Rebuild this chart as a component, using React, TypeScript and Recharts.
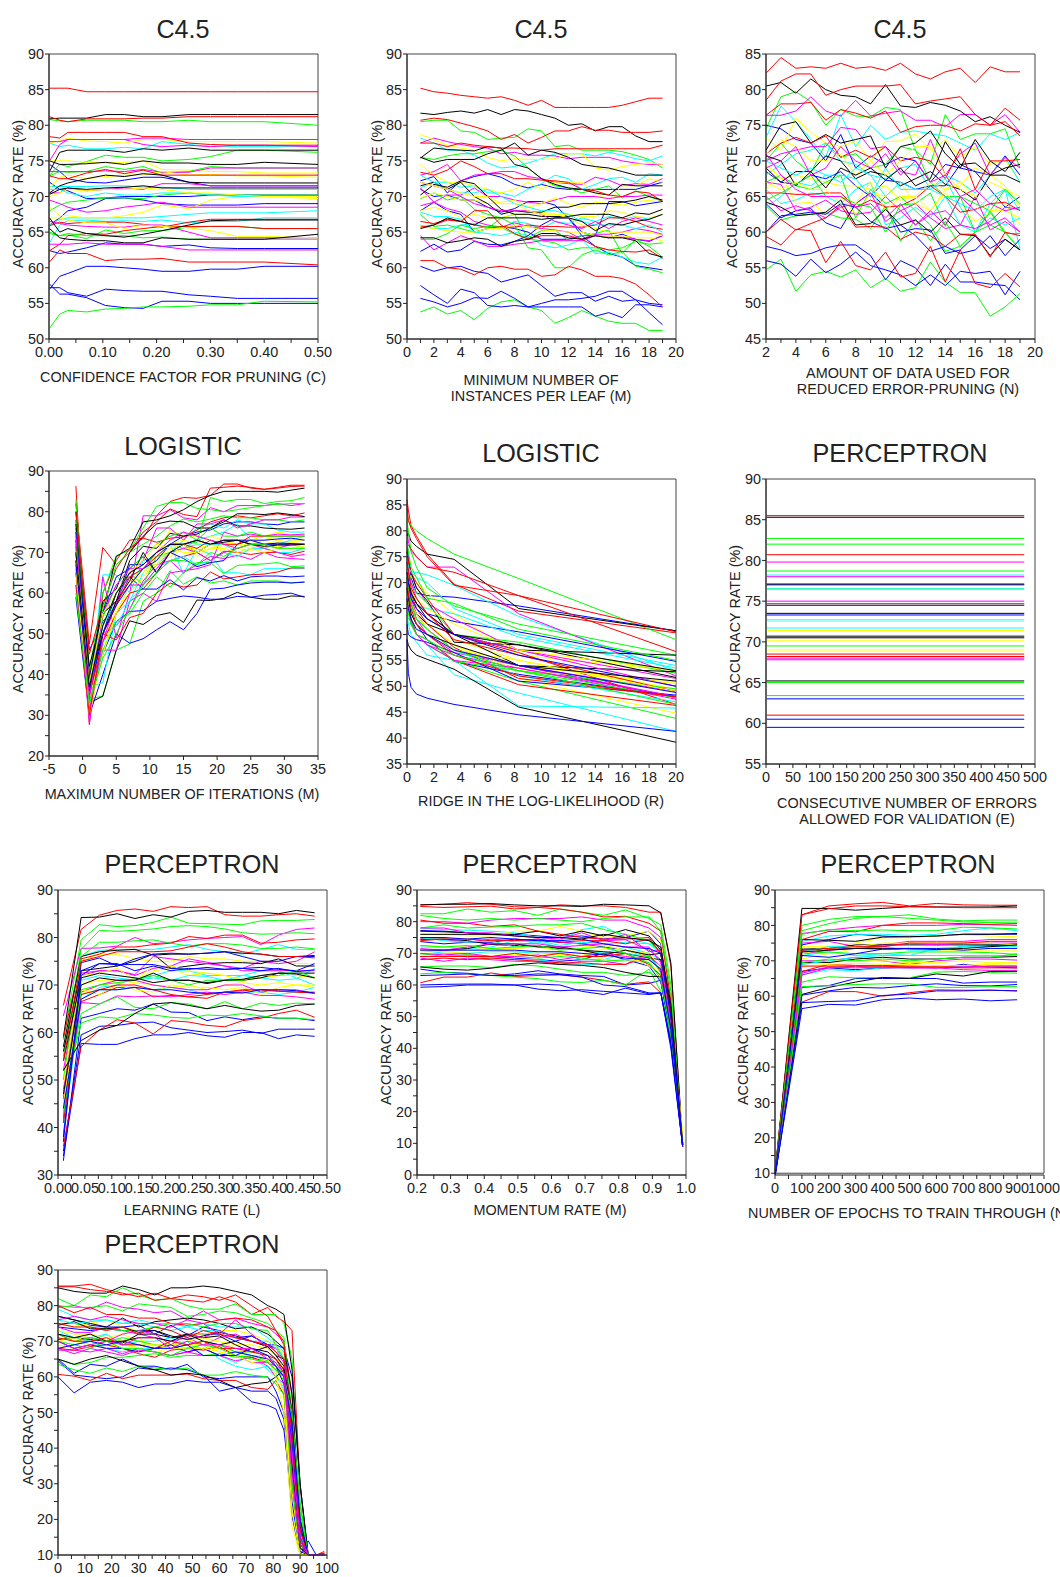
import { LineChart, Line, XAxis, YAxis, ReferenceArea } from "recharts";

const RED = "#ff0000";
const GREEN = "#00ff00";
const BLUE = "#0000ff";
const CYAN = "#00ffff";
const MAGENTA = "#ff00ff";
const YELLOW = "#ffff00";
const BLACK = "#000000";

// confidence factor
const confX = [0.001, 0.02, 0.035, 0.07, 0.105, 0.14, 0.175, 0.21, 0.26, 0.3, 0.35, 0.4, 0.5];
const confRed = [
  [85.2, 85.2, 85.2, 84.7, 84.7, 84.7, 84.7, 84.7, 84.7, 84.7, 84.7, 84.7, 84.7],
  [81.2, 80.7, 80.5, 80.9, 80.9, 80.9, 81, 81, 81.2, 81.2, 81.2, 81.2, 81.2],
  [78.4, 78.2, 79, 79, 79, 79, 78.4, 78.4, 77.5, 77.3, 77.2, 77.2, 77.2],
  [72.9, 72.5, 72.5, 73.3, 73.8, 73.2, 73.7, 73, 73, 73, 73, 73, 73],
  [65.9, 66.4, 66.2, 66.4, 66.4, 66.4, 66.1, 65.7, 66.4, 66.8, 66.8, 66.8, 66.8],
  [62.4, 63.3, 64.5, 64.8, 64.7, 65.2, 65.5, 65.8, 65.8, 65.8, 65.8, 65.5, 65.5],
  [60.8, 62.5, 62, 62, 61, 61.2, 61.2, 61.3, 60.8, 60.8, 60.8, 60.8, 60.4],
];
const confGreen = [
  [80.8, 80.6, 80.5, 80.7, 80.7, 80.7, 80.5, 80.5, 80.7, 80.5, 80.5, 80.5, 80],
  [73, 74.5, 74.2, 74.9, 75.8, 75.5, 75.5, 75, 75.2, 75.6, 76.5, 76.5, 76.2],
  [72.9, 73.5, 73.4, 73.5, 74.2, 73.8, 74.2, 73.3, 73.5, 74.2, 74, 74, 74],
  [68, 68.8, 69.2, 69.5, 69.8, 69.8, 69.7, 70.2, 70.5, 70.2, 70.2, 70.2, 70.2],
  [64.8, 64.5, 64.6, 64.1, 65.3, 64.8, 65.2, 65.2, 65.7, 65.8, 65.8, 65.5, 65.5],
  [65, 64.5, 64.8, 64.5, 64.5, 64.5, 64.2, 64.3, 64, 64, 64, 64, 64],
  [51.5, 53.5, 54, 53.8, 54.2, 54.3, 54.5, 54.5, 54.6, 54.8, 54.8, 55.3, 55.2],
];
const confBlue = [
  [74.5, 73.5, 72.5, 72, 71.9, 72.3, 72.7, 72.7, 72, 71.5, 71.5, 71.5, 71.5],
  [72, 71, 70.8, 69.7, 69.8, 70, 70, 70, 70, 70.2, 70.2, 70.2, 70.2],
  [66, 67, 68, 68.5, 69.7, 69.8, 69.5, 69, 68.8, 68.8, 68.8, 69, 69],
  [62.4, 62, 62.2, 62.8, 63.5, 63.3, 63.3, 63, 63.2, 62.8, 62.7, 62.7, 62.7],
  [57, 58.8, 59.2, 60.2, 60.2, 60, 59.8, 59.5, 59.5, 59.8, 59.8, 60.2, 60.2],
  [57.7, 56.3, 56.3, 55.8, 54.7, 54.4, 54.3, 55.3, 55.3, 55, 55, 55, 55],
  [57.2, 57.2, 56.5, 56, 57, 56.8, 56.7, 56.7, 56.2, 56, 55.7, 55.7, 55.7],
];
const confCyan = [
  [77.5, 77, 77.2, 76.7, 76.7, 76.9, 76.7, 77.7, 77.3, 77, 77, 77, 77],
  [71.4, 71.4, 71.4, 71.4, 71.5, 71.5, 71.3, 71.3, 71, 71, 71, 71, 71],
  [63.5, 66, 66.6, 66.7, 66.5, 66.6, 66.5, 66.7, 66.3, 66.5, 66.5, 67, 67],
  [66, 66.8, 67, 67, 67, 67, 67, 67.2, 67.5, 67.7, 67.7, 67.7, 68],
  [71, 71, 70.5, 70, 70.5, 70.2, 70.2, 70.5, 70.5, 70.2, 70, 70, 70],
];
const confMagenta = [
  [75, 77.3, 78, 78, 78, 78, 77.3, 77, 77.2, 77, 77.2, 77.2, 77],
  [77.7, 77.7, 78, 78, 78, 78, 78.2, 78.2, 78, 78, 78, 78, 78],
  [73.5, 73.5, 73.5, 73.5, 73.6, 73.5, 73.8, 73.4, 73.4, 74, 74, 74, 74],
  [70.5, 70.5, 71.2, 70.8, 71, 71.2, 71, 71.8, 71.8, 71.5, 71.5, 71.5, 71.5],
  [69.5, 69, 68.5, 67.8, 68, 68.5, 68.8, 69.2, 68.5, 68.5, 68.5, 68.5, 68.5],
  [66.5, 66.2, 66, 65.8, 65.7, 65.7, 66, 66, 65, 64.2, 64.2, 64.2, 64.2],
  [63.3, 63.3, 63.3, 63.5, 63.3, 63.3, 63.3, 63, 62.5, 62.5, 62.5, 62.5, 62.5],
];
const confYellow = [
  [77.5, 77.8, 78.2, 77.8, 77.7, 77.5, 78, 78, 77.7, 77.7, 77.7, 77.7, 77.5],
  [75, 75, 75, 74.8, 74.7, 74.8, 75, 73.8, 73.7, 73.5, 73.5, 73.3, 73.3],
  [71.2, 72.7, 73, 72.5, 72.8, 73, 73, 73.5, 73, 73.1, 72.9, 72.9, 72.7],
  [68.5, 67.3, 67.3, 67, 67, 67.3, 67.8, 68.8, 68.3, 69.5, 70, 70, 69.7],
  [70, 70.5, 71, 70.8, 71, 71, 71.2, 71, 70.5, 70.5, 70.2, 70, 70],
  [67, 67, 66.7, 66.3, 66.3, 65.5, 66, 65.8, 65.6, 65.2, 64.4, 64.4, 64.2],
];
const confBlack = [
  [80.9, 81, 81, 81, 81.5, 81.5, 81.2, 81.2, 81.5, 81.5, 81.5, 81.5, 81.5],
  [73.5, 76.2, 76.5, 76.5, 76.5, 76.2, 76.7, 76.5, 76.8, 76.5, 76.5, 76.5, 76.5],
  [75, 74.5, 74.5, 74.6, 74.8, 74.5, 75, 74.7, 74.7, 74.5, 74.5, 74.8, 74.5],
  [70.5, 71.5, 71.9, 72.5, 73, 72.8, 73.2, 73, 72, 71.9, 71.9, 71.9, 71.9],
  [70.3, 71, 71.2, 71, 71.2, 71.3, 71.5, 71.2, 71.2, 71.2, 71.2, 71.2, 71.2],
  [67, 65, 65.5, 64.8, 64.5, 64.3, 64.7, 65.2, 66, 66.6, 66.7, 66.7, 66.7],
  [65.5, 64.2, 64, 63.8, 63.8, 63.5, 63.5, 64.2, 64, 64, 64, 64, 64.7],
];

// minimum instances per leaf
const leafX = [1, 2, 3, 4, 5, 6, 7, 8, 9, 10, 11, 12, 13, 14, 15, 16, 17, 18, 19];
const leafRed = [
  [85.2, 84.7, 84.5, 84.2, 84, 83.8, 84, 83.5, 82.8, 83.5, 82.5, 82.5, 82.5, 82.5, 82.5, 82.8, 83.3, 83.8, 83.8],
  [80.7, 81, 80.8, 80.3, 79.8, 79.2, 78, 78.7, 77.5, 78.3, 79.2, 79.2, 79.8, 79.3, 79.3, 79, 79, 79, 79.2],
  [77.5, 77.5, 77, 77.5, 77.2, 77, 76.8, 76.8, 76.7, 76.5, 76.7, 76.7, 76.7, 76.7, 76.7, 76.7, 76.7, 76.7, 77.2],
  [73.4, 73, 73.7, 75, 74.2, 73.2, 73.2, 72.5, 72.5, 72.3, 72.2, 72, 71, 70.8, 70.2, 70, 70.7, 70.5, 69.3],
  [66.5, 66.2, 66.8, 66.5, 66, 65.7, 65.8, 65.7, 66, 65.8, 65.8, 65.7, 65.7, 66, 67, 67, 66.5, 65.7, 65.4],
  [65.7, 66, 66.7, 66.5, 68, 68, 66, 64.8, 64, 64.5, 64.5, 64.5, 64, 63, 62.5, 62.3, 62.2, 62.5, 61.3],
  [61, 61, 60, 59.8, 59, 60, 60.2, 59.8, 59.8, 58.8, 59, 60.2, 59.7, 58.8, 58.8, 58.5, 57.7, 56.2, 54.5],
];
const leafGreen = [
  [80.5, 80.7, 80.7, 79.2, 79, 78, 78.2, 78.3, 79.5, 79.2, 77, 77.2, 76.5, 76.5, 76.5, 76.3, 75.8, 75.2, 74],
  [75.5, 75.2, 75.7, 76, 76, 76.3, 76.5, 75.7, 74, 72.5, 71.5, 71.2, 70.5, 71, 71.5, 69.8, 70.8, 70, 69.3],
  [69.7, 70.5, 69.5, 70, 68.2, 67.5, 67, 67.5, 64, 63.8, 63.5, 62.5, 62.8, 62.8, 62.5, 62.8, 63.7, 63.3, 63.5],
  [67.5, 65.8, 66, 65.5, 65, 65.5, 67, 66, 62.8, 62.5, 60, 60, 61.8, 62.5, 61.8, 62.3, 60.2, 59.8, 59.3],
  [64, 64, 64.8, 66, 65.5, 65.8, 65.7, 64.7, 64.2, 65.2, 65.3, 63.8, 64.5, 64.8, 65.3, 62, 64, 63, 61.5],
  [53.8, 54.5, 53.5, 54, 52.7, 54.3, 55.2, 55.5, 54.5, 54, 52.2, 53, 54, 53.2, 52.5, 52.2, 52.2, 51.2, 51.2],
];
const leafBlue = [
  [72.2, 72.8, 70.5, 72.2, 72.8, 73.2, 72.7, 71.7, 71.2, 71.7, 71.2, 71, 71, 71, 71, 71, 71, 71.5, 72],
  [71, 70, 70.2, 69.5, 69.5, 68.5, 67.8, 68.3, 69.3, 69.3, 68.8, 67, 64.5, 63, 62, 61.5, 60.3, 60, 59.7],
  [68, 69.2, 68, 67.5, 65, 65.5, 65.8, 65.5, 65, 64, 64, 64, 64.5, 64.5, 64.2, 64.7, 64, 63.7, 64.5],
  [62.3, 63.3, 62.2, 62.5, 63.7, 63.3, 63.2, 63.7, 64.5, 66, 67, 67, 65, 64.5, 69.3, 69.3, 68.7, 69, 69.3],
  [60.2, 59.5, 60, 60.2, 59.5, 59.2, 58, 58.5, 59, 57.5, 56, 56.5, 56.5, 55.3, 56, 55.3, 55.5, 55, 54.8],
  [57.5, 56.2, 55, 57, 56.5, 54.7, 54.5, 54.7, 54.5, 54.5, 54.5, 54.5, 54.5, 53.2, 53.7, 53, 54.8, 54.8, 54.5],
  [55.7, 55.2, 54.5, 55, 55.8, 55.7, 56.7, 55.7, 54.5, 55, 55.5, 55.5, 55.7, 56, 56.7, 56.7, 55.5, 53.7, 52],
];
const leafCyan = [
  [78.2, 77.5, 76.5, 76.5, 75.8, 74.7, 74, 74.2, 74.7, 75.3, 76, 76, 76, 75.7, 76.2, 75.8, 75.3, 75, 75.7],
  [71.2, 72, 72, 71.3, 71.5, 70.5, 70.5, 70, 71, 71.8, 73, 72.5, 71, 71.7, 72.5, 72.7, 72, 73.2, 73],
  [67.8, 67.2, 67.2, 66.8, 65, 64.8, 64.5, 65, 64.5, 63.2, 62.8, 63.2, 64, 62, 62.2, 61.5, 60.8, 60.5, 61.5],
  [66, 65.5, 65.5, 66, 66.2, 65.5, 65.5, 66.5, 66.2, 65.5, 66.5, 66.2, 67, 66.5, 67.2, 66.8, 67.2, 66.8, 67.5],
  [73, 72, 71, 70.5, 70.5, 71, 70, 69, 68.5, 68, 68, 67.5, 66.5, 66, 66, 66, 65.5, 66, 65],
];
const leafMagenta = [
  [77.5, 78.2, 77.7, 77.3, 77, 76.8, 76, 76.2, 75.8, 75.8, 75.7, 75.3, 75.5, 75.5, 75.5, 75, 74.7, 74.5, 74.5],
  [73, 73.5, 74.5, 72.2, 73, 73.2, 73.5, 73.5, 72.8, 72.5, 72, 71.8, 71.7, 72.7, 72.3, 71.5, 71.8, 71.7, 72.5],
  [71.2, 69.2, 70.2, 70.2, 71.2, 70, 70, 69.5, 69.2, 69, 69.5, 70, 70, 70, 69.7, 70, 70, 70.2, 70.2],
  [68.7, 69.2, 68.3, 67.8, 66.5, 66, 65.7, 66.3, 65.8, 65.5, 65.3, 65, 64, 64.7, 64.7, 65, 65.5, 65.2, 64.7],
  [64.5, 62.5, 63.5, 64.5, 63.8, 63, 63, 63.3, 63.5, 63.8, 63.8, 63.8, 63.8, 64.5, 64.3, 64.3, 64, 63.8, 64.5],
  [72, 71.5, 71, 70, 69, 68.5, 68, 68, 68, 67.5, 66.5, 66, 65.5, 66.5, 65.5, 66.5, 67, 66.5, 66],
];
const leafYellow = [
  [78.7, 78, 77.2, 76.8, 76.5, 75.5, 75, 75.3, 75.2, 75.2, 75.3, 76, 76, 74, 73.7, 74.2, 74.5, 74.7, 74.5],
  [74.5, 73, 72, 72, 71.5, 71, 70.5, 71, 72, 71, 72, 72, 72, 70.5, 69.5, 71.5, 71.5, 72.5, 72],
  [69.8, 70.5, 70, 69.5, 69.5, 69, 69.2, 69.5, 68.5, 69, 69.8, 69, 68.5, 69.2, 69, 68.8, 69.2, 69.5, 69],
  [68, 68.5, 68, 67, 67.5, 67, 67, 67.5, 67.5, 67.8, 67.5, 67.5, 67.2, 67.2, 68, 67.8, 67.2, 67, 67.5],
  [65.8, 65.5, 65.2, 65, 65, 65.5, 65.5, 66, 65.8, 65.3, 65.2, 65, 65, 64.5, 64.3, 64.5, 64.2, 64.2, 63.8],
  [72, 71.5, 71, 70.5, 70, 70, 69, 69, 68, 67.5, 67.5, 67, 66, 65.5, 65, 65, 65, 65, 64.5],
];
const leafBlack = [
  [81.7, 81.5, 81.8, 82, 81.7, 82.2, 81.5, 82.2, 82, 81.5, 81, 80, 80.2, 79.2, 79.8, 79.8, 78.5, 77.7, 77.7],
  [75.4, 76.8, 76.6, 76.5, 76.4, 77, 76.8, 74.5, 74, 72.5, 71.7, 71.2, 71, 70.5, 70.2, 71.7, 71.5, 71.5, 71.5],
  [75.5, 74.8, 75.2, 75.2, 75.2, 76, 76.5, 77.5, 75.8, 76.5, 76.2, 75.5, 74.5, 74.2, 74, 73.5, 73, 73, 73],
  [71.5, 72, 71, 72, 70, 69, 67.5, 68, 67.8, 67.8, 68.5, 68.5, 69, 69, 69, 69.2, 69.5, 70, 69.5],
  [70.2, 71.7, 71.3, 72.2, 71.8, 70, 68.2, 67.5, 67.5, 67.2, 67.2, 67.2, 67.5, 67.5, 67.5, 67, 67.7, 67.5, 68.2],
  [65.5, 66, 67, 66.5, 66, 67, 67, 67, 67, 66.8, 67, 67, 66.5, 65.2, 66.2, 66, 66.5, 66.8, 67.5],
  [64.2, 64.2, 63.5, 63.8, 64.2, 64, 63, 63.7, 64, 64.8, 64.8, 64.2, 64, 64.5, 64.2, 64.2, 63.8, 62, 61.5],
];

// reduced error pruning folds
const foldX = [2, 3, 4, 5, 6, 7, 8, 9, 10, 11, 12, 13, 14, 15, 16, 17, 18, 19];
const foldRed = [
  [82.3, 84.5, 83, 83.2, 83, 83.7, 83, 83.2, 82.7, 83.7, 82.2, 81.5, 82.5, 83, 81, 83.2, 82.5, 82.5],
  [78.5, 81.2, 82.2, 82.2, 79.2, 80, 80.5, 80.5, 80.5, 80.7, 78, 78.4, 78.7, 79, 76.5, 75, 75.5, 73.5],
  [76.4, 78, 78, 78.2, 75.7, 77.2, 76.7, 76, 77, 74, 74.8, 75, 75, 74.2, 75.2, 75, 77.4, 75.7],
  [71, 72.5, 73.3, 72.5, 73.5, 70.5, 71.5, 70.5, 72, 70, 70.5, 70, 67.5, 71.7, 66, 70, 70, 70.2],
  [65.5, 65.5, 65.3, 65.3, 65.5, 65.5, 63.5, 64.5, 63.5, 63.7, 64.7, 66.5, 65, 62.8, 63.2, 64, 64.2, 63],
  [60, 61.8, 60.3, 61.2, 62, 63.8, 60.7, 60.8, 60.7, 59, 60, 59.5, 58, 59.7, 59.7, 56.5, 60, 59.5],
  [59.4, 58.2, 60.4, 60.2, 55.7, 58.7, 55.3, 54.7, 57.2, 53.7, 54.2, 58, 53, 57.5, 52.8, 52.2, 54.2, 52.3],
];
const foldGreen = [
  [74.5, 79, 79.7, 78.3, 75, 77.2, 76.3, 76.2, 77.5, 77.2, 71.5, 69.5, 76.5, 73, 73.8, 73.8, 74.5, 69],
  [70, 72.5, 70, 68.3, 72.5, 70.5, 71, 69, 69.5, 72, 71.5, 67, 65, 65, 60, 61, 60, 57.5],
  [67, 68, 66.5, 66, 67, 68, 62, 66, 64, 65, 63, 61, 57.3, 58, 60, 63, 60, 57.5],
  [63.7, 61.7, 62.3, 62.5, 62.7, 62, 61.8, 60.5, 63.7, 58.7, 61.8, 58.8, 61.5, 58, 60, 62.8, 59.8, 59.8],
  [64.5, 65.5, 66.7, 68, 65, 65, 64, 63.5, 60, 63.8, 64, 65.5, 60.8, 65, 64, 63, 66, 64],
  [54.7, 56.2, 51.7, 54, 54.5, 53.7, 54.7, 52.2, 53.5, 51.7, 52.2, 55.8, 53, 51.5, 51.5, 48.2, 49.5, 51.4],
];
const foldBlue = [
  [75, 74.5, 73, 72.5, 70, 73.7, 69, 70.7, 69.5, 70.5, 70, 67, 69.5, 69, 68.5, 68, 70.7, 68],
  [68.5, 67, 66.7, 68, 67.5, 68.5, 66.5, 65, 67.3, 67, 66, 66.5, 66.5, 69.5, 68.5, 66, 63.5, 65],
  [64, 62, 63, 63.3, 61.3, 60.5, 64, 65.5, 63.5, 60, 60.5, 60.3, 57, 57.5, 59.5, 57.7, 59, 57.5],
  [60, 62.3, 62.5, 62.8, 62.5, 64, 63.5, 61.5, 60.5, 61, 59.5, 57.3, 58, 57, 57.5, 59.5, 56.7, 59],
  [58, 57.5, 56.7, 57, 57.8, 58.2, 58.2, 56.7, 53.3, 56, 55, 52.5, 55.5, 53, 53, 52.7, 52.5, 50.5],
  [56, 55.5, 53.8, 56.2, 54.3, 55.5, 57.2, 55.3, 54.7, 54, 52.5, 54, 52.5, 54.5, 54.2, 54.5, 51.2, 54.5],
];
const foldCyan = [
  [73.3, 77.7, 75.5, 73, 70.5, 76.5, 72, 75, 73, 74, 74.2, 73.8, 73.5, 72.5, 71.5, 73.8, 73, 74],
  [68, 69.5, 71, 71.5, 72.5, 70, 69.5, 68, 67.5, 69, 69.5, 66, 68, 67, 65.5, 68, 70.5, 67],
  [66, 64, 64.5, 65.5, 65, 64, 66, 67, 61, 62, 63.5, 62, 65, 61, 60, 64, 66, 57.7],
  [63.5, 65, 67, 66.5, 68, 68, 67.5, 65, 69, 66, 66, 66, 67.5, 63.5, 60, 62, 61, 62],
  [70, 69, 68, 69, 68, 67, 69, 68, 65, 67, 66, 66, 65, 64, 63, 65, 66, 63],
];
const foldMagenta = [
  [76.4, 76.4, 77, 79, 77, 76.3, 78.5, 76.3, 76.7, 77, 75.7, 75.7, 74.8, 76.5, 76.5, 75, 76.5, 74],
  [70, 71, 71.5, 72, 72, 74.7, 74.4, 71.7, 72, 68.5, 68, 73, 68, 71, 72.5, 68, 70.5, 69],
  [67, 66.7, 63, 63.5, 64.5, 63, 62.5, 62.8, 65, 63, 64, 62, 60.5, 61, 65, 60.3, 61.5, 60],
  [65, 63, 63.7, 63, 62, 63.5, 64, 65.5, 61.5, 63, 61, 62.5, 63, 61, 60.5, 61.5, 63.5, 63.2],
  [69, 70, 72, 68, 69, 72, 70, 69, 71, 68, 70, 67, 68, 65, 63, 61, 62, 60],
  [71, 68, 66, 65, 65, 65, 63.5, 64, 62, 64, 61, 63, 61, 65, 66, 64, 63, 63.5],
];
const foldYellow = [
  [73.2, 71.5, 76, 74, 72.5, 72, 72.8, 70, 72.7, 72.8, 73.8, 71.5, 73, 70.5, 72, 69.5, 70.2, 67],
  [69.5, 67.5, 68, 67.5, 67, 66.5, 66.5, 66, 66.5, 64.5, 65, 67, 66, 66.5, 69, 68, 66.5, 63.5],
  [66, 68, 64, 64.2, 62.5, 65, 62.5, 65.5, 65, 67, 64, 63, 65.5, 63.5, 61.5, 62.7, 64, 61],
  [71, 73, 72, 70, 70, 71, 68, 70, 68, 70, 72, 72, 68, 66, 65, 67, 66, 65],
  [67, 66, 67, 66, 66, 64, 64, 67, 63, 65, 65, 63, 66, 67, 65, 63, 63, 62],
];
const foldBlack = [
  [80.5, 81, 79.5, 81.5, 80, 79.2, 79, 78, 80.7, 77.7, 77.5, 78.2, 77.8, 77, 75.5, 76.2, 75, 74],
  [71.5, 75, 75.5, 72.5, 73.7, 72.5, 73, 73.5, 69, 72, 72.5, 74.2, 71, 69, 73, 70, 68.5, 71.2],
  [70.7, 70, 66.5, 68.5, 70.7, 70, 67.5, 68.5, 68, 66.5, 67.5, 68.5, 66.7, 66, 64.5, 68, 68, 67],
  [69, 67, 68.5, 68.5, 66.2, 69, 68, 69, 67.3, 69, 66.5, 67.5, 72.7, 69.5, 69.7, 68, 69, 69.5],
  [64.2, 63.5, 62.3, 62.5, 62.8, 64.5, 61, 61.2, 63.2, 61, 61.7, 60, 62, 59.7, 59.5, 56.7, 59, 57.5],
];

// logistic iterations
const iterX = [-1, 1, 3, 5, 7, 9, 11, 13, 15, 17, 19, 21, 23, 25, 27, 29, 31, 33];
const iterRed = [
  [86.3, 27.7, 60, 68, 73, 73.5, 79, 82.5, 83.5, 83.3, 84, 86.8, 86.8, 85.8, 85.5, 86, 86.5, 86.5],
  [82, 47.5, 71.2, 67, 70, 75, 77.5, 80.7, 79.3, 78.8, 85.8, 86, 86.3, 86, 85.5, 85.8, 86.2, 86.3],
  [80, 45, 57, 66, 71, 73.5, 72.5, 73.5, 73.8, 75.5, 77.5, 78.5, 79, 78.5, 79, 79.5, 79, 79.7],
  [70, 40, 50, 48.5, 54, 55, 60, 62.5, 61.5, 62, 65.2, 63.5, 64, 64.5, 64.7, 65.2, 66.2, 66.2],
  [65, 35, 48, 55, 60, 61, 65, 68, 69, 70, 68, 70.3, 70, 69.5, 70, 70, 69.5, 70.3],
  [62, 30, 50, 57, 64, 66, 69, 72, 72, 71, 73, 72, 72, 74, 74, 74, 74, 74],
];
const iterGreen = [
  [83, 34, 34.7, 46, 47.5, 58, 60, 65.5, 62.2, 64, 62.5, 63, 62, 63, 63, 63, 62.5, 62.8],
  [82, 41, 60, 69.2, 70.5, 76, 81.3, 82.3, 82.2, 80.8, 80.5, 80, 80.5, 81, 81.5, 81.8, 82, 82],
  [78, 40, 56, 67, 70, 72, 74, 76.5, 78.2, 77.5, 78.2, 79, 78.5, 78.5, 78, 78, 77.5, 78],
  [65, 35, 46, 53, 55, 60, 64, 61.5, 65, 67.5, 67.5, 64.8, 66.8, 67, 67.2, 67.5, 66.5, 66.7],
  [75, 38, 52, 60, 65, 62, 69, 70, 72, 72.5, 83.5, 82.5, 83, 83, 82, 82.5, 82.7, 83.5],
  [70, 37, 54, 62, 66, 69, 72, 74, 75, 73, 76, 74, 74, 75, 74, 74, 74, 74],
  [60, 33, 44, 50, 56, 62, 65, 68, 68, 67, 70, 69, 71, 72, 72, 71, 71, 71],
];
const iterBlue = [
  [78, 46, 53, 57, 67, 67, 70, 72, 74, 75, 75.5, 77, 77.5, 77.5, 77, 76.8, 77.5, 77.5],
  [59, 30, 40, 50, 47.7, 48.8, 51, 53, 51, 55, 61, 61.2, 62, 62.5, 62.7, 62.7, 62.5, 62.7],
  [70, 33, 45, 53, 55.5, 55.7, 58, 58.7, 59.3, 59, 58.5, 58.5, 59.2, 59, 59.5, 59.7, 60, 59],
  [72, 35, 50, 60, 64, 61, 61, 63.3, 60.8, 63.8, 63, 64.3, 63, 64, 64.2, 64.2, 64, 64.2],
  [75, 39, 55, 64, 66, 69, 65, 70, 68.5, 66.5, 67.5, 68, 72, 73, 73, 73.3, 73.5, 73],
  [67, 36, 50, 57, 62, 66, 68, 72, 72, 73, 72, 73, 73, 73, 72, 72, 72, 72],
];
const iterCyan = [
  [77, 35, 64.5, 64.5, 60, 68, 69, 72, 64.7, 71, 69.5, 65, 65, 64.5, 66, 66, 66, 66],
  [73, 37, 38, 55, 58, 65, 68, 70, 73, 76, 77, 76, 78, 77, 77, 75.5, 75, 75],
  [68, 33, 45, 55, 62, 66, 67, 70, 71, 73, 74, 75, 77, 73, 72, 71, 72, 71],
  [71, 35, 52, 58, 64, 66, 70, 72, 71, 72, 72, 72, 70, 71, 71, 72, 73, 74],
  [62, 31, 48, 52, 58, 62, 66, 68, 69, 67, 68, 70, 69, 71, 71, 70, 70, 71],
];
const iterMagenta = [
  [76, 30, 64, 49, 60, 79, 79, 80.5, 78.5, 78, 81, 80, 81.5, 81.5, 81.5, 82, 81.5, 82],
  [70, 32, 46, 46, 58, 60, 58, 65, 65.5, 66, 67, 75, 74, 74.5, 74, 74.5, 74.3, 74.5],
  [66, 28, 50, 52, 56, 63, 67, 68, 65, 67, 69, 68.5, 69.3, 68.3, 70, 68.8, 68.5, 68.3],
  [72, 36, 55, 58, 65, 68, 76, 76, 73, 77, 77, 78, 76, 77, 78, 78, 78.7, 78.7],
  [68, 31, 48, 58, 62, 62, 66, 70, 71, 70, 68, 70, 71, 72, 71, 70, 69, 69.5],
  [74, 34, 55, 62, 66, 66, 70, 73, 75, 74, 73, 72, 71, 72, 72, 71, 72, 72],
];
const iterYellow = [
  [74, 35, 50, 58, 62, 65, 70, 75.5, 74, 74, 73, 72, 72, 73, 74, 75, 74.5, 74.5],
  [71, 32, 47, 55, 60, 64, 68, 70, 72, 69, 71, 71, 72, 71, 72, 73, 72.5, 72],
  [69, 36, 52, 60, 63, 66, 67, 69, 71, 71, 72, 70, 71, 70.5, 71.5, 71.5, 71, 71.5],
  [72, 34, 48, 56, 60, 64, 67, 72, 73, 72, 74, 73, 72, 72, 73, 74, 73, 73],
  [66, 30, 45, 55, 62, 65, 68, 71, 70, 70, 71, 72, 73, 73, 72, 72, 72, 72],
  [70, 38, 55, 60, 65, 68, 72, 71, 72, 70, 72, 71, 70, 71, 70, 71, 71, 72],
];
const iterBlack = [
  [71.5, 33, 34.7, 46, 53.2, 52.3, 54.5, 55.2, 52.8, 58.3, 58.2, 58.7, 60.2, 59, 58.5, 58.5, 59.3, 59.2],
  [80, 40, 55, 69, 71, 77.5, 78, 79, 80.5, 82.5, 84, 85, 85, 85, 85, 84.8, 85.3, 85.8],
  [77, 39, 58, 61, 70, 74, 77, 77.7, 77.5, 76, 76, 78, 76.5, 76.5, 76, 75.8, 75.7, 76],
  [73, 42, 55, 58, 68, 71.5, 71, 74.7, 74, 74.5, 76, 77.5, 79.5, 79.5, 79.3, 79.7, 79.3, 78.8],
  [68, 38, 50, 58, 63, 70, 65, 70, 72, 70, 72, 72.5, 73, 72, 72, 72.3, 72.2, 72],
  [70, 37, 52, 60, 65, 67, 70, 72, 72, 73, 72, 73, 73, 72, 71.5, 71.8, 71.8, 72],
];

// logistic ridge
const ridgeX = [0, 0.1, 0.3, 0.7, 1.5, 3.5, 8.3, 20];
const ridgeRed = [
  [86, 84, 81, 79, 75.5, 69.7, 64.5, 60.3],
  [85, 82, 80.5, 78.5, 75, 69.5, 67.5, 60.5],
  [77, 77.3, 76.5, 75, 73, 72, 67.5, 56.7],
  [76, 74, 72, 70, 67, 60, 56.5, 46.5],
  [68, 66, 63, 60, 59, 55, 50.3, 46.3],
  [72, 70, 68, 65, 62, 57.5, 51.5, 48],
  [74, 72, 69, 67, 64, 59, 56, 49],
  [70, 68, 65, 62, 60, 56, 52, 48],
];
const ridgeGreen = [
  [83, 82, 81, 80, 78.5, 75.5, 70.8, 59],
  [82, 80, 76, 73, 69, 65.5, 62, 56],
  [75, 73, 70, 68, 66, 60, 58.5, 52.5],
  [69, 66, 62.5, 60, 58, 55, 51, 43.8],
  [64, 63, 62.5, 60, 59, 54.8, 53, 47.8],
  [78, 76, 73, 71, 67, 66, 61, 55],
  [71, 69, 66, 63, 61, 57, 53, 49.5],
  [66, 64, 62, 60, 59, 56, 53, 46.5],
];
const ridgeBlue = [
  [78, 75, 71, 68, 67.5, 67.2, 65.5, 60.7],
  [75, 72, 69, 66, 64, 62.5, 60.5, 54.8],
  [73, 70, 66, 63, 61, 57, 54, 47.8],
  [70, 67, 64, 62, 59, 54.8, 52.3, 48],
  [62, 60, 59.5, 59, 58.5, 56.5, 51, 48.3],
  [59, 52.5, 49.8, 48.5, 47.7, 46.5, 44.5, 41.3],
  [72, 70, 67, 65, 63, 60, 56, 50],
  [67, 65, 63, 61, 60, 57, 54, 48.8],
];
const ridgeCyan = [
  [76, 74, 72, 72, 71.5, 69.5, 63.5, 53],
  [72, 70, 67, 65.5, 65, 64, 59.5, 53.5],
  [68, 65, 62, 60, 58, 52.2, 48.7, 41.3],
  [64, 62, 60, 58.5, 56, 55, 46.2, 45.8],
  [74, 73, 72, 71, 70, 65, 60, 54],
  [70, 68, 65, 63, 61, 57, 52, 47],
];
const ridgeMagenta = [
  [80, 78, 76, 75, 73, 73, 64, 52],
  [76, 75, 72, 69, 66, 63, 57, 51.5],
  [71, 69, 66, 63, 60, 56.5, 54, 48],
  [69, 66, 63, 60, 58, 56, 53.5, 47.5],
  [74, 72, 70, 67, 64, 60, 57, 50],
  [72, 70, 67, 64, 61, 57, 54, 49],
  [67, 65, 62, 60, 58, 55, 53.5, 48],
];
const ridgeYellow = [
  [75, 72, 71, 70, 68, 64, 56, 53],
  [71, 70, 69, 66, 64, 59, 55, 49.5],
  [69, 68, 65, 63, 62, 58, 51.5, 44.8],
  [70, 67, 65, 64, 62, 58, 53, 50.8],
  [73, 71, 69, 67, 65, 62, 57, 53],
  [72, 69, 66, 64, 61, 57, 54, 50.5],
  [68, 66, 64, 62, 60, 57, 55, 49],
];
const ridgeBlack = [
  [79, 79.5, 78, 77, 75.5, 74.5, 65, 60.7],
  [76, 74, 72, 69, 66.5, 58.5, 58, 51.7],
  [74, 72, 68, 66, 63, 60, 57, 56],
  [71, 68, 66, 64, 62, 60, 54, 52.8],
  [59, 58, 57, 56, 55.2, 53.3, 46, 39.2],
  [72, 70, 68, 66, 64, 60, 58, 53],
  [69, 67, 64, 62, 60, 58, 54, 51],
];

// perceptron validation threshold
const errX = [1, 480];
const errRed = [[85.5, 85.5], [80.7, 80.7], [68.5, 68.5], [68.2, 68.2], [61, 61]];
const errGreen = [[82.7, 82.7], [82, 82], [78.7, 78.7], [76.5, 76.5], [69.5, 69.5], [65, 65], [63.4, 63.4]];
const errBlue = [[73.3, 73.3], [77, 77], [63, 63], [60.5, 60.5], [59.5, 59.5]];
const errCyan = [[78.2, 78.2], [72.7, 72.7], [71.7, 71.7], [76.5, 76.5]];
const errMagenta = [[79.8, 79.8], [78, 78], [75, 75], [74.7, 74.7], [68, 68], [67.8, 67.8]];
const errYellow = [[72.5, 72.5], [71.4, 71.4], [70.2, 70.2], [69, 69]];
const errBlack = [[85.3, 85.3], [77.1, 77.1], [74.5, 74.5], [73.5, 73.5], [70.7, 70.7], [70.5, 70.5], [65.2, 65.2]];

// perceptron learning rate
const learnX = [0.01, 0.043, 0.077, 0.11, 0.143, 0.177, 0.21, 0.243, 0.277, 0.31, 0.343, 0.377, 0.41, 0.443, 0.477];
const learnRed = [
  [65.7, 81.7, 84.7, 85.7, 86, 85.5, 86.5, 86.3, 86.5, 84.8, 84.5, 84.5, 84.8, 85, 84.5],
  [59, 75.5, 76.5, 78, 78, 78.5, 78.8, 80.2, 79.8, 80.5, 80.5, 78.8, 79, 79.5, 79.7],
  [46, 66.5, 68, 69.5, 69.5, 67.5, 67.8, 67.5, 67.2, 68.5, 68.8, 69, 68.7, 68.5, 68.3],
  [36, 57, 60.5, 62.7, 62, 59.7, 62.5, 62.2, 61.5, 61.2, 62.5, 63, 64, 64.7, 63.2],
  [54, 75, 76, 77, 77, 77, 77.2, 78, 78.7, 78, 77, 76.5, 76, 76, 75.7],
  [41, 68, 69, 70, 70, 69, 68, 67.5, 68, 68.5, 69, 69, 68.7, 68.5, 68.5],
];
const learnGreen = [
  [58.5, 79.5, 82.7, 82.3, 82.5, 83.2, 84.3, 83, 82.9, 82.8, 82.7, 83.5, 83.6, 83.6, 83.8],
  [55, 77.5, 81.5, 81.3, 81.5, 81.8, 82.3, 82.5, 82.3, 81.8, 81, 80.7, 80.8, 81, 80.8],
  [50, 76, 79, 79, 79.3, 79.5, 78.8, 78.2, 78.7, 78.7, 78.4, 77.7, 77.7, 78, 77.6],
  [45, 64, 66, 67.5, 65.3, 65, 66.3, 66, 65, 66.5, 65, 66.2, 65.7, 66.2, 66],
  [47, 62, 63.3, 63, 64, 63.7, 63.2, 63, 63.7, 63.5, 64, 63.5, 63, 63, 62.7],
  [43, 69, 70, 70.5, 71, 72, 71, 70, 71, 71, 71, 72, 72, 73, 71.5],
];
const learnBlue = [
  [33, 63, 64, 65, 64.7, 66, 64.3, 64.2, 62.5, 63.3, 62.7, 63.3, 63, 63, 62.5],
  [35, 59.5, 61.3, 61.5, 62, 62.2, 61, 60.5, 60, 60.2, 60.5, 59.8, 60.7, 60.7, 60.7],
  [34, 57.7, 57.5, 57.5, 58.7, 59.5, 59.5, 60, 59.3, 59, 60, 60, 58.7, 59.5, 59.2],
  [41, 74.7, 75.7, 74, 75.5, 76.5, 76.7, 76.5, 76.7, 77, 76, 75, 75, 76, 76],
  [38, 73, 74.5, 74.3, 74.3, 74.3, 73.5, 73.3, 73.7, 73.3, 73.5, 73.7, 73.3, 73, 74.5],
  [44, 67, 69, 69, 69.5, 69, 69, 68.5, 68.2, 68.5, 68.3, 69, 69, 68.8, 68.3],
  [37, 72, 74.5, 74.5, 73, 74, 73, 73.5, 73.3, 73.3, 73.5, 73, 73.5, 72.8, 73.2],
];
const learnCyan = [
  [42, 76, 77.3, 77.5, 77.5, 77.5, 78, 78.5, 77.5, 77, 76.5, 77.5, 78.5, 77.5, 77.5],
  [39, 67, 69.5, 70, 71.5, 72, 73, 73, 72, 72, 72, 73, 73, 71.5, 70],
  [44, 68, 69, 69, 69.5, 69, 69.5, 69, 68, 68.5, 68.5, 68.5, 68, 68.5, 69.5],
  [41, 71, 72, 71.5, 71, 71.5, 71, 72, 71.8, 71, 72, 71.5, 71, 71.3, 73.5],
];
const learnMagenta = [
  [63.5, 77.7, 77.8, 78.2, 80, 78.7, 79, 79.5, 79.8, 80, 80.2, 78.5, 80.5, 81.7, 82],
  [52, 72.5, 73, 73, 72, 73.5, 74, 75.5, 74.8, 74, 73.5, 75, 74.5, 75, 77],
  [42, 66.3, 66, 67.7, 67.5, 67.7, 67.5, 68, 68.5, 68, 68.5, 67.8, 67.8, 67.5, 67],
  [48, 72, 73, 73, 72.2, 76, 75.5, 75, 74.5, 74, 73, 73, 73, 73, 73],
  [46, 68.5, 70, 71, 71, 70, 69.5, 69, 69, 70, 70, 68.5, 69, 69, 68.2],
];
const learnYellow = [
  [50, 75, 76.5, 76.5, 75.5, 75, 75, 76, 75.5, 75.5, 75, 75, 75, 74.5, 74.5],
  [47, 70, 71, 71, 70.5, 70, 69.5, 70, 69, 70, 70.5, 70, 70.5, 70, 70],
  [43, 68, 70, 70.5, 71, 73, 73.5, 72, 72.5, 72, 71, 71.5, 72, 72, 71.5],
  [49, 72, 72.5, 73.5, 71, 74, 74, 73, 72.5, 72, 71, 71.5, 72, 72, 71.5],
  [45, 69, 68, 70, 69, 68.5, 70, 69.5, 69.5, 69, 69.5, 68, 69.5, 70, 69.5],
];
const learnBlack = [
  [59, 84.2, 84.3, 85, 84, 84.8, 84.3, 85.5, 85.7, 85.3, 85.3, 85.3, 85, 85.7, 85.2],
  [57, 76, 77, 77.3, 77.5, 76.3, 76.5, 76.5, 76.7, 77, 76.7, 76.5, 76, 76, 76.2],
  [56, 73, 73.5, 74, 75, 76.5, 73.5, 74, 74.5, 74.7, 74.7, 74.5, 75.5, 74, 74],
  [54, 71.5, 72.5, 72, 71.5, 70.5, 71, 71, 70.5, 71, 71, 71.5, 72.5, 72.5, 72.5],
  [52, 58.3, 60.5, 61.5, 64, 66, 66.3, 65.7, 65, 65.7, 65, 64.5, 64.7, 65.7, 66],
  [47, 70, 71.5, 71, 71, 72.5, 71, 71, 70.3, 71, 71.2, 72, 72.5, 72.3, 71.5],
];

// perceptron momentum
const momX = [0.21, 0.28, 0.35, 0.42, 0.49, 0.56, 0.625, 0.69, 0.755, 0.82, 0.89, 0.925, 0.955, 0.99];
const momRed = [
  [85.3, 85.5, 86, 85.5, 84.7, 84.5, 85.3, 85, 85, 84.5, 83, 83, 66, 9.5],
  [84.8, 84.5, 84.7, 84.9, 84, 84.5, 84, 83, 81.5, 81.7, 79.5, 77, 55, 10],
  [80.5, 79.5, 79.5, 78.5, 79, 77, 76, 75, 74.5, 74.5, 75, 70, 50, 10],
  [68, 68.5, 68, 68.5, 68, 67.5, 67, 67, 66.5, 66.5, 70, 64, 47, 9.5],
  [60.7, 62.5, 62.5, 63.8, 62.7, 63, 63.2, 62.5, 61.5, 60.2, 61, 57.5, 42, 9],
  [74, 74.5, 74.5, 74, 74, 74.5, 73.5, 74, 74, 73, 74.5, 70, 51, 10],
  [69, 69, 69, 69, 70, 69, 70, 69, 69, 70, 66.5, 63, 46, 9.5],
];
const momGreen = [
  [82.5, 82.5, 84, 83, 83.5, 82, 84, 83, 82, 83.7, 81, 79, 60, 10],
  [82, 81, 80.5, 81, 80.5, 81, 80.5, 80, 81, 81.5, 81.5, 77, 58, 9.5],
  [78, 79, 78, 78.3, 78.5, 79, 79, 79.5, 77.5, 76, 74, 70, 50, 10],
  [65.7, 66, 66, 65.5, 66.5, 66, 65, 64, 64, 63, 64, 62, 47, 9.5],
  [63.5, 64, 63.5, 63, 62.5, 62, 61, 60.8, 61.5, 60, 65, 58, 44, 10],
  [70, 69, 69.5, 69, 69, 68.5, 69, 68.5, 67.5, 68, 69, 64, 46, 10],
  [72.5, 72, 72.5, 71.5, 72, 72.5, 71, 71.5, 72, 70, 67, 62, 45, 10],
];
const momBlue = [
  [77.2, 77, 76.5, 76, 76, 75.5, 75, 75.5, 74.5, 75, 77, 73, 52, 9.5],
  [73.7, 73, 73.5, 73.5, 74.5, 74, 73.5, 73, 72, 71, 69, 66, 48, 9.5],
  [69, 69, 69.5, 69, 68.5, 68, 67.5, 68, 70, 68, 66, 61, 45, 9.5],
  [65, 64, 63.7, 63, 63.5, 64.5, 63.5, 63, 62.7, 60, 60.5, 61.5, 43, 9],
  [63, 63.2, 63.5, 63, 63, 63.5, 63.3, 62.5, 60, 59.5, 57.5, 57.5, 42, 9.5],
  [60, 60.2, 60.3, 60.3, 60, 60.3, 60, 58, 57, 59, 57.2, 57.5, 41, 9],
  [59.3, 59.5, 60, 60, 60, 58.7, 58.2, 58.5, 58, 57.5, 57, 57.5, 40, 9],
  [75, 75, 74.5, 75, 74.5, 74, 74, 74.5, 73, 72, 71.5, 70, 50, 9.5],
  [71, 71, 71, 71, 71, 70.5, 70.5, 70, 69.5, 68.5, 68, 65, 46, 9.5],
];
const momCyan = [
  [78, 77.5, 77.3, 77, 76.5, 75, 74, 77.5, 78.5, 75, 73, 71, 50, 10],
  [72, 72, 71.5, 72, 74, 73.5, 72, 71, 70, 72, 70, 68, 48, 10],
  [69.5, 70, 69, 68.5, 68, 68, 67, 66.5, 66.5, 68, 67, 63, 46, 9.5],
  [75, 74, 73.5, 74, 72, 74, 72.5, 73.5, 73, 73.5, 73, 70, 50, 10],
  [71, 70, 70, 70.5, 70.5, 70, 70, 68, 68, 70, 69, 65, 47, 10],
];
const momMagenta = [
  [80, 80, 79.5, 80.5, 81, 81, 81, 81.5, 80.5, 80.5, 78, 75, 55, 9],
  [74.5, 74.3, 73.5, 74.5, 74, 74.5, 73.5, 73, 74, 74.3, 71, 68, 49, 9],
  [68.5, 67.5, 68.5, 68, 67.5, 67.5, 66.5, 67.5, 67.5, 66.5, 69, 66, 47, 9],
  [78, 78, 76.5, 76.5, 75.5, 75, 74.5, 76.5, 74, 76, 70.5, 71, 52, 9],
  [71.5, 71, 72, 73, 73, 73, 72, 72.5, 73, 72, 72, 67, 48, 9],
  [70, 69.5, 70, 69, 69, 69.5, 68, 69, 70, 69, 68, 65, 46, 9],
];
const momYellow = [
  [76, 76, 75.5, 75.5, 77, 77, 78.5, 77, 75, 75.5, 77, 74, 56, 10],
  [70.5, 70.5, 71, 71.5, 70.5, 70, 70, 69, 71.5, 71, 69, 66, 48, 14],
  [69.5, 69, 69.5, 69, 69.5, 70, 69.5, 71, 69.5, 69.5, 66, 64, 47, 12],
  [72.5, 72, 72, 71.5, 71.5, 72, 71, 72, 72.5, 71, 70, 66, 50, 11],
  [71, 70.5, 70, 70, 69.5, 70, 69.5, 70, 68, 67.5, 68, 62, 46, 12],
];
const momBlack = [
  [85.3, 85.5, 85.5, 85.7, 85.3, 85, 85, 84.8, 85.5, 85.3, 85, 82.8, 67, 10],
  [77, 76.8, 76.5, 76, 76, 77, 75.5, 77, 75.5, 77.5, 75.5, 71, 54, 10],
  [74.5, 74.5, 74, 72.8, 72.5, 72.3, 71.5, 71, 70.5, 70, 68.5, 68, 50, 9.5],
  [71, 71, 71.5, 73, 73, 72, 72, 71, 69.5, 71, 69.5, 70, 50, 9.5],
  [65.7, 65, 64.7, 65.3, 66.3, 67, 66.5, 66.2, 65.5, 64, 62.7, 62.7, 46, 9.5],
  [76, 76, 76, 76, 75.5, 75, 75, 74.5, 76, 75, 74, 72, 52, 10],
];

// perceptron epochs
const epochX = [1, 100, 200, 300, 400, 500, 600, 700, 800, 900];
const epochRed = [
  [11, 83, 85.5, 86.1, 86.5, 85.5, 86.2, 85.8, 85.7, 85.7],
  [10.5, 83, 84.7, 85.5, 85.5, 85.3, 85.2, 85, 85, 85],
  [10.5, 76, 78.3, 78.2, 80, 80.7, 80.7, 80.5, 80.3, 80.5],
  [10, 67, 69, 68.7, 68.7, 68.5, 68.5, 68.2, 68.5, 68.5],
  [10, 58.3, 61.3, 61.3, 60, 61, 61.8, 61.7, 61.7, 61.5],
  [10, 73, 73.5, 74, 74, 75, 75, 75, 75.5, 75.5],
  [10, 68.5, 68.5, 68.5, 68.5, 68.2, 68.3, 68, 68, 68],
];
const epochGreen = [
  [10.5, 80, 81.7, 82.5, 82.5, 83, 81.8, 81.3, 81.5, 81.5],
  [10.5, 78.5, 80.5, 82, 82.5, 82, 81.5, 81, 80.8, 80.7],
  [10.5, 77.5, 78.8, 78.5, 78.7, 78.5, 78.5, 79.5, 79.3, 79],
  [10, 72, 72.5, 72, 72, 72.5, 72.5, 72.5, 72.3, 71.8],
  [10, 64, 65.5, 65.2, 65.3, 65.2, 66.8, 67, 66.7, 66.5],
  [10, 62.7, 63, 63.3, 63.5, 63.5, 62.5, 62.5, 62.7, 62.7],
  [10, 69.5, 70.5, 70, 70.5, 70, 70.5, 71, 71, 72],
];
const epochBlue = [
  [10, 74.5, 76, 77.5, 77, 76.7, 77, 77.5, 77.5, 77.5],
  [10, 73, 73.3, 73.5, 73.3, 73.3, 73, 74, 74.3, 74.8],
  [10, 67, 68, 67.5, 68, 68.2, 68, 69, 68.2, 68],
  [10, 62.5, 63, 65, 65, 65, 65, 63.7, 64, 64],
  [9.5, 60.3, 61.5, 62.5, 62.3, 63, 63.5, 63, 62.9, 63.3],
  [9.5, 58.2, 58.5, 58.7, 60.2, 60.6, 61.5, 61.5, 61.7, 61.5],
  [9.5, 56.5, 57.7, 57.5, 59, 59.5, 59, 59.2, 58.7, 59],
  [10, 71.5, 71, 72, 73.3, 73.5, 73.5, 73, 73.5, 73.5],
];
const epochCyan = [
  [10.5, 75.5, 77, 77.5, 77.5, 77.2, 77.5, 78.5, 79.3, 78.5],
  [10, 71.5, 72.5, 71.5, 72, 71.5, 73.5, 74, 74.5, 74.5],
  [10, 66, 67.5, 67.2, 68, 68, 68.2, 68.5, 68.2, 68.5],
  [10, 72.5, 74, 74, 74, 73, 73, 74, 74, 74],
  [10, 69, 70, 71, 71.5, 71.5, 71.5, 71.5, 71.5, 71.5],
];
const epochMagenta = [
  [10.5, 77.7, 78.7, 79.5, 80, 80, 80, 80.3, 80.2, 80],
  [10, 75, 75.5, 74, 74.5, 75.5, 75.5, 75.5, 76, 76],
  [10, 70, 70, 71, 70, 69, 70, 70.5, 70.5, 70.2],
  [10, 66.5, 68.3, 68, 68.3, 68, 68, 67.5, 67.3, 67.3],
  [10, 72, 73, 73.5, 74, 75, 74.5, 75, 75, 75],
  [10, 66, 68, 68.5, 68, 68, 68, 68.3, 68.5, 68.5],
];
const epochYellow = [
  [10.5, 74, 74, 75, 76.5, 76.5, 77, 77.3, 77, 76.8],
  [10, 70.5, 72, 73.5, 73.5, 73.5, 73, 73, 73, 73],
  [10, 69, 70, 70, 70, 69.5, 69.5, 70, 69.5, 69.5],
  [10, 68.5, 69, 69.3, 69, 69, 68.5, 68.7, 69, 69.2],
  [10, 72, 73.5, 74, 75, 75, 75, 75, 75, 74.5],
];
const epochBlack = [
  [11, 84.8, 84.8, 84.3, 84.8, 85.3, 85.2, 85.2, 85.2, 85.5],
  [10.5, 76, 75.8, 75.5, 76.7, 76.8, 77, 77.5, 77.5, 77.7],
  [10, 73.3, 73.5, 74.5, 74.5, 74.5, 74.5, 74.5, 74.5, 74.5],
  [10, 69.5, 69.5, 70.5, 71, 70.5, 70.5, 71, 71, 71.2],
  [10, 60.5, 62.5, 64, 65.3, 65, 66.3, 65.7, 67, 67],
  [10, 72.5, 73, 73.5, 73.5, 73.5, 73.2, 73.5, 74, 74.5],
];

// perceptron hidden layer
const hiddenX = [0, 6, 12, 18, 24, 30, 36, 42, 48, 54, 60, 66, 72, 78, 81, 84, 87, 90, 93, 96, 99];
const hiddenRed = [
  [85.5, 85.5, 86, 84.5, 83.5, 82.5, 83.5, 82, 81.5, 81, 82.5, 81, 77.5, 79.5, 77, 75.5, 73, 29, 10, 10, 11],
  [85.3, 85.3, 84.5, 84, 83, 83.5, 81.5, 82, 83, 82.5, 81.5, 83, 80, 77, 73, 70, 55, 17, 10, 10, 10.5],
  [80, 78, 79.5, 77.5, 77.5, 76.5, 76.5, 75, 74.5, 75, 76, 76.5, 76, 74, 73, 69, 40, 13, 10, 10, 10.5],
  [68, 67.5, 68.5, 69, 68, 66.5, 65.5, 67.5, 68, 67.5, 68.5, 66, 65.5, 64, 62, 60, 40, 14, 10, 10, 10.5],
  [60.7, 60.2, 59, 61, 59.5, 60.5, 60.5, 60.5, 60.8, 59.5, 59, 59, 57, 56.5, 59, 55, 30, 12, 10, 10, 10.5],
  [75, 74, 74, 73, 74, 72, 74, 73, 71, 73, 72, 71, 70, 69, 67, 65, 50, 20, 10, 10, 10],
  [71, 70, 70, 71, 69, 69, 68, 70, 69, 70, 68, 68, 67, 66, 65, 61, 45, 17, 10, 10, 10],
];
const hiddenGreen = [
  [82, 80, 83, 82.5, 85, 83, 81.5, 82, 80, 79, 79, 80.5, 77.5, 77.5, 77.5, 75, 65, 25, 10, 10, 10],
  [80, 79.5, 79.5, 80, 78.5, 80.5, 80, 79.5, 77, 77.5, 78.5, 78, 76.5, 75, 73, 71, 50, 18, 10, 10, 10],
  [75, 75, 74, 73.5, 73, 73, 74, 75, 75, 74, 75, 75, 73.5, 73, 69, 65, 40, 14, 10, 10, 10],
  [65, 63.5, 64, 65.5, 65.5, 66, 66.5, 65.5, 66, 66, 66.5, 65.5, 66, 64.5, 62, 59, 35, 13, 10, 10, 10],
  [63.5, 62, 61, 62.5, 61.5, 63, 62.5, 62, 62.5, 60.5, 60.5, 61.5, 60.5, 60, 58, 55, 30, 12, 10, 10, 10],
  [72, 70, 71, 70, 71, 70, 69, 68, 69, 70, 69, 67, 67, 66, 64, 60, 47, 22, 10, 10, 10],
  [70, 69, 68, 70, 68, 68, 67, 66, 68, 69, 68, 66, 65, 64, 62, 60, 50, 24, 10, 10, 10],
];
const hiddenBlue = [
  [77, 76, 74.5, 74, 74, 74.5, 72, 74.5, 72, 72, 72, 70, 71.5, 69, 69, 68, 60, 30, 10, 10, 10],
  [74, 73.5, 73, 73.5, 73, 73, 73, 71, 71.5, 74, 73, 71, 71.5, 69, 68, 65, 50, 20, 10, 10, 10],
  [65, 61, 63.5, 63, 65, 63, 63, 62, 63.5, 60, 59.5, 60, 60, 60, 56, 50, 28, 11, 10, 10, 10],
  [64.5, 60.5, 60, 59.5, 60, 62.5, 62, 62.5, 62, 60.5, 56, 57, 53, 52, 51, 45, 25, 10, 10, 10, 10],
  [60, 55.5, 58.5, 59, 58.5, 57, 58, 58, 59, 58.5, 58.5, 57, 56, 56, 54, 48, 21, 10, 14, 10, 10],
  [70, 68, 69, 68, 68, 67, 68, 69, 67, 68, 66, 67, 66, 65, 63, 58, 42, 15, 10, 10, 10],
  [68, 69, 70, 69, 70, 69, 68, 68, 69, 66, 66, 66, 68, 66, 63, 60, 47, 20, 10, 10, 10],
];
const hiddenCyan = [
  [79, 77, 76, 76, 75, 76, 75, 75, 74, 75, 74, 74, 74, 71, 69, 67, 50, 20, 10, 10, 10],
  [73, 71, 71, 72, 69, 69, 69, 69, 68, 69, 65, 63, 62, 63, 61, 56, 30, 12, 10, 10, 10],
  [68, 69, 70, 68, 67, 68, 68, 69, 70, 66, 66, 64, 66, 62, 60, 57, 30, 13, 10, 10, 10],
  [76, 75, 75.5, 76, 75, 75, 74, 73, 74, 73, 73, 71, 70, 70, 68, 65, 48, 19, 10, 10, 10],
  [72, 71, 70, 72, 69, 70, 70, 71, 69, 70, 69, 67, 66, 65, 63, 60, 42, 16, 10, 10, 10],
];
const hiddenMagenta = [
  [79.5, 80, 79, 81, 79.5, 79, 78, 78.5, 76, 78.5, 76, 76.5, 75, 74, 72, 70, 45, 18, 10, 10, 10],
  [74, 72.5, 72.5, 74, 73, 72, 71, 70, 71, 69, 71, 72, 70, 68.5, 68, 65, 40, 15, 10, 10, 10],
  [67.5, 67.5, 67, 68, 66.5, 68, 67, 66, 67, 68, 66, 64.5, 65.5, 63, 60, 58, 35, 12, 10, 10, 10],
  [76, 77, 76, 77, 76, 75, 75, 74, 76, 75, 72, 76, 72, 68, 66, 62, 40, 15, 10, 10, 10],
  [72, 70, 71, 70, 72, 73, 72, 69, 72, 71, 73, 71, 70, 69, 67, 64, 42, 17, 10, 10, 10],
  [68, 66.5, 68, 67, 66, 67.5, 67, 66, 67, 66, 66, 66, 64, 64, 63, 60, 33, 13, 10, 10, 10],
  [70, 68, 69, 70, 69, 71, 71, 68, 70, 69, 69, 68, 68, 65, 64, 61, 38, 15, 10, 10, 10],
];
const hiddenYellow = [
  [75, 74, 75, 76, 74, 73, 74, 71, 72, 72, 73, 73, 72, 70, 69, 66, 35, 10, 10, 10, 10],
  [72, 70, 69, 71, 70, 70, 69, 69, 68, 70, 70, 68, 66, 66, 63, 60, 28, 10, 10, 10, 10],
  [69, 68, 69, 68, 70, 68, 67, 68, 69, 68, 68, 67, 65, 64, 62, 55, 22, 10, 10, 10, 10],
  [73, 72, 72, 71, 72, 70, 71, 69, 70, 71, 70, 69, 69, 68, 66, 62, 28, 10, 10, 10, 10],
  [70, 71, 69, 70, 70, 71, 68, 69, 69, 69, 67, 66, 66, 65, 63, 58, 22, 10, 10, 10, 10],
  [71, 70, 72, 70, 68, 69, 69, 68, 68, 68, 67, 66, 64, 65, 60, 50, 18, 10, 10, 10, 10],
];
const hiddenBlack = [
  [85, 84, 83.5, 83.5, 85.5, 84.5, 83, 85, 85, 85.5, 85, 84, 83, 80, 79, 77.5, 62, 30, 10, 10, 10],
  [77, 76, 75, 74, 76.5, 74, 75.5, 76, 76.5, 76, 75, 73.5, 74, 72, 70, 68, 55, 20, 10, 10, 10],
  [74.5, 75.5, 73.5, 73.5, 74, 72.5, 73, 71.5, 70.5, 71.5, 72.5, 71.5, 70, 68.5, 66, 65, 45, 16, 10, 10, 10],
  [70.5, 71, 70.5, 70, 69.5, 72, 72, 71, 72, 71, 71.5, 69, 67, 68.5, 66, 63, 35, 13, 10, 10, 10],
  [65, 63.5, 65, 66, 64.5, 63, 62, 60.5, 61, 60.5, 59, 57, 58, 58.5, 60, 62, 35, 12, 10, 10, 10],
  [72, 71, 72, 70, 70, 71, 71, 70, 72, 70, 69, 70, 68, 67, 65, 62, 50, 18, 10, 10, 10],
];

// axis ticks, "" marks an unlabelled minor tick
const fiveY = [50, 55, 60, 65, 70, 75, 80, 85, 90];
const fiveYLabels = ["50", "55", "60", "65", "70", "75", "80", "85", "90"];
const conf5 = [0, 0.05, 0.1, 0.15, 0.2, 0.25, 0.3, 0.35, 0.4, 0.45, 0.5];
const conf5Labels = ["0.00", "", "0.10", "", "0.20", "", "0.30", "", "0.40", "", "0.50"];
const oneTo20 = [0, 1, 2, 3, 4, 5, 6, 7, 8, 9, 10, 11, 12, 13, 14, 15, 16, 17, 18, 19, 20];
const oneTo20Labels = ["0", "", "2", "", "4", "", "6", "", "8", "", "10", "", "12", "", "14", "", "16", "", "18", "", "20"];
const foldTicks = [2, 3, 4, 5, 6, 7, 8, 9, 10, 11, 12, 13, 14, 15, 16, 17, 18, 19, 20];
const foldTickLabels = ["2", "", "4", "", "6", "", "8", "", "10", "", "12", "", "14", "", "16", "", "18", "", "20"];
const foldY = [45, 50, 55, 60, 65, 70, 75, 80, 85];
const foldYLabels = ["45", "50", "55", "60", "65", "70", "75", "80", "85"];
const iterTicks = [-5, 0, 5, 10, 15, 20, 25, 30, 35];
const iterTickLabels = ["-5", "0", "5", "10", "15", "20", "25", "30", "35"];
const iterY = [20, 25, 30, 35, 40, 45, 50, 55, 60, 65, 70, 75, 80, 85, 90];
const iterYLabels = ["20", "", "30", "", "40", "", "50", "", "60", "", "70", "", "80", "", "90"];
const ridgeY = [35, 40, 45, 50, 55, 60, 65, 70, 75, 80, 85, 90];
const ridgeYLabels = ["35", "40", "45", "50", "55", "60", "65", "70", "75", "80", "85", "90"];
const errTicks = [0, 25, 50, 75, 100, 125, 150, 175, 200, 225, 250, 275, 300, 325, 350, 375, 400, 425, 450, 475, 500];
const errTickLabels = ["0", "", "50", "", "100", "", "150", "", "200", "", "250", "", "300", "", "350", "", "400", "", "450", "", "500"];
const errY = [55, 60, 65, 70, 75, 80, 85, 90];
const errYLabels = ["55", "60", "65", "70", "75", "80", "85", "90"];
const learnTicks = [0, 0.025, 0.05, 0.075, 0.1, 0.125, 0.15, 0.175, 0.2, 0.225, 0.25, 0.275, 0.3, 0.325, 0.35, 0.375, 0.4, 0.425, 0.45, 0.475, 0.5];
const learnTickLabels = ["0.00", "", "0.05", "", "0.10", "", "0.15", "", "0.20", "", "0.25", "", "0.30", "", "0.35", "", "0.40", "", "0.45", "", "0.50"];
const learnY = [30, 35, 40, 45, 50, 55, 60, 65, 70, 75, 80, 85, 90];
const learnYLabels = ["30", "", "40", "", "50", "", "60", "", "70", "", "80", "", "90"];
const momTicks = [0.2, 0.25, 0.3, 0.35, 0.4, 0.45, 0.5, 0.55, 0.6, 0.65, 0.7, 0.75, 0.8, 0.85, 0.9, 0.95, 1];
const momTickLabels = ["0.2", "", "0.3", "", "0.4", "", "0.5", "", "0.6", "", "0.7", "", "0.8", "", "0.9", "", "1.0"];
const momY = [0, 5, 10, 15, 20, 25, 30, 35, 40, 45, 50, 55, 60, 65, 70, 75, 80, 85, 90];
const momYLabels = ["0", "", "10", "", "20", "", "30", "", "40", "", "50", "", "60", "", "70", "", "80", "", "90"];
const epochTicks = [0, 50, 100, 150, 200, 250, 300, 350, 400, 450, 500, 550, 600, 650, 700, 750, 800, 850, 900, 950, 1000];
const epochTickLabels = ["0", "", "100", "", "200", "", "300", "", "400", "", "500", "", "600", "", "700", "", "800", "", "900", "", "1000"];
const tenY = [10, 15, 20, 25, 30, 35, 40, 45, 50, 55, 60, 65, 70, 75, 80, 85, 90];
const tenYLabels = ["10", "", "20", "", "30", "", "40", "", "50", "", "60", "", "70", "", "80", "", "90"];
const hiddenTicks = [0, 5, 10, 15, 20, 25, 30, 35, 40, 45, 50, 55, 60, 65, 70, 75, 80, 85, 90, 95, 100];
const hiddenTickLabels = ["0", "", "10", "", "20", "", "30", "", "40", "", "50", "", "60", "", "70", "", "80", "", "90", "", "100"];

type Groups = [string, number[][]][];

const groupsOf = (r: number[][], g: number[][], b: number[][], c: number[][], m: number[][], y: number[][], k: number[][]): Groups => [
  [RED, r], [GREEN, g], [BLUE, b], [CYAN, c], [MAGENTA, m], [YELLOW, y], [BLACK, k],
];

const FONT = "'Liberation Sans', Arial, sans-serif";
const PLOT_W = 269;
const PLOT_H = 285;
const LEFT = 40;
const RIGHT = 40;
const TOP = 12;
const BOTTOM = 30;

const panels = [
  { left: 49, top: 54, title: "C4.5", titleX: 183, titleY: 29, xCap: [["CONFIDENCE FACTOR FOR PRUNING (C)", 183, 377]], yCapX: 18, yCapY: 194, x: confX, xDomain: [0, 0.5], xTicks: conf5, xLabels: conf5Labels, yDomain: [50, 90], yTicks: fiveY, yLabels: fiveYLabels, groups: groupsOf(confRed, confGreen, confBlue, confCyan, confMagenta, confYellow, confBlack) },
  { left: 407, top: 54, title: "C4.5", titleX: 541, titleY: 29, xCap: [["MINIMUM NUMBER OF", 541, 380], ["INSTANCES PER LEAF (M)", 541, 396]], yCapX: 377, yCapY: 194, x: leafX, xDomain: [0, 20], xTicks: oneTo20, xLabels: oneTo20Labels, yDomain: [50, 90], yTicks: fiveY, yLabels: fiveYLabels, groups: groupsOf(leafRed, leafGreen, leafBlue, leafCyan, leafMagenta, leafYellow, leafBlack) },
  { left: 766, top: 54, title: "C4.5", titleX: 900, titleY: 29, xCap: [["AMOUNT OF DATA USED FOR", 908, 373], ["REDUCED ERROR-PRUNING (N)", 908, 389]], yCapX: 732, yCapY: 194, x: foldX, xDomain: [2, 20], xTicks: foldTicks, xLabels: foldTickLabels, yDomain: [45, 85], yTicks: foldY, yLabels: foldYLabels, groups: groupsOf(foldRed, foldGreen, foldBlue, foldCyan, foldMagenta, foldYellow, foldBlack) },
  { left: 49, top: 471, title: "LOGISTIC", titleX: 183, titleY: 446, xCap: [["MAXIMUM NUMBER OF ITERATIONS (M)", 182, 794]], yCapX: 18, yCapY: 619, x: iterX, xDomain: [-5, 35], xTicks: iterTicks, xLabels: iterTickLabels, yDomain: [20, 90], yTicks: iterY, yLabels: iterYLabels, groups: groupsOf(iterRed, iterGreen, iterBlue, iterCyan, iterMagenta, iterYellow, iterBlack) },
  { left: 407, top: 479, title: "LOGISTIC", titleX: 541, titleY: 453, xCap: [["RIDGE IN THE LOG-LIKELIHOOD (R)", 541, 801]], yCapX: 377, yCapY: 619, x: ridgeX, xDomain: [0, 20], xTicks: oneTo20, xLabels: oneTo20Labels, yDomain: [35, 90], yTicks: ridgeY, yLabels: ridgeYLabels, groups: groupsOf(ridgeRed, ridgeGreen, ridgeBlue, ridgeCyan, ridgeMagenta, ridgeYellow, ridgeBlack) },
  { left: 766, top: 479, title: "PERCEPTRON", titleX: 900, titleY: 453, xCap: [["CONSECUTIVE NUMBER OF ERRORS", 907, 803], ["ALLOWED FOR VALIDATION (E)", 907, 819]], yCapX: 735, yCapY: 619, x: errX, xDomain: [0, 500], xTicks: errTicks, xLabels: errTickLabels, yDomain: [55, 90], yTicks: errY, yLabels: errYLabels, groups: groupsOf(errRed, errGreen, errBlue, errCyan, errMagenta, errYellow, errBlack) },
  { left: 58, top: 890, title: "PERCEPTRON", titleX: 192, titleY: 864, xCap: [["LEARNING RATE (L)", 192, 1210]], yCapX: 28, yCapY: 1031, x: learnX, xDomain: [0, 0.5], xTicks: learnTicks, xLabels: learnTickLabels, yDomain: [30, 90], yTicks: learnY, yLabels: learnYLabels, groups: groupsOf(learnRed, learnGreen, learnBlue, learnCyan, learnMagenta, learnYellow, learnBlack) },
  { left: 417, top: 890, title: "PERCEPTRON", titleX: 550, titleY: 864, xCap: [["MOMENTUM RATE (M)", 550, 1210]], yCapX: 386, yCapY: 1031, x: momX, xDomain: [0.2, 1], xTicks: momTicks, xLabels: momTickLabels, yDomain: [0, 90], yTicks: momY, yLabels: momYLabels, groups: groupsOf(momRed, momGreen, momBlue, momCyan, momMagenta, momYellow, momBlack) },
  { left: 775, top: 890, title: "PERCEPTRON", titleX: 908, titleY: 864, xCap: [["NUMBER OF EPOCHS TO TRAIN THROUGH (N)", 909, 1213]], yCapX: 743, yCapY: 1031, x: epochX, xDomain: [0, 1000], xTicks: epochTicks, xLabels: epochTickLabels, yDomain: [10, 90], yTicks: tenY, yLabels: tenYLabels, groups: groupsOf(epochRed, epochGreen, epochBlue, epochCyan, epochMagenta, epochYellow, epochBlack) },
  { left: 58, top: 1270, title: "PERCEPTRON", titleX: 192, titleY: 1244, xCap: [], yCapX: 28, yCapY: 1411, x: hiddenX, xDomain: [0, 100], xTicks: hiddenTicks, xLabels: hiddenTickLabels, yDomain: [10, 90], yTicks: tenY, yLabels: tenYLabels, groups: groupsOf(hiddenRed, hiddenGreen, hiddenBlue, hiddenCyan, hiddenMagenta, hiddenYellow, hiddenBlack) },
];

function Caption({ text, x, y, size = 14.4, rotate = 0 }: { text: string; x: number; y: number; size?: number; rotate?: number }) {
  return (
    <div
      style={{
        position: "absolute",
        left: x,
        top: y,
        transform: `translate(-50%, -50%) rotate(${rotate}deg)`,
        fontFamily: FONT,
        fontSize: size,
        color: "#222",
        whiteSpace: "nowrap",
      }}
    >
      {text}
    </div>
  );
}

function Panel({ p }: { p: (typeof panels)[number] }) {
  // lines are taken colour by colour in turn so no colour sits on top of all the others
  const lines: { color: string; values: number[] }[] = [];
  const most = Math.max(...p.groups.map(([, g]) => g.length));
  for (let i = 0; i < most; i++) {
    p.groups.forEach(([color, g]) => {
      if (g[i]) lines.push({ color, values: g[i] });
    });
  }
  const rows = p.x.map((x, i) => {
    const row: Record<string, number> = { x };
    lines.forEach((l, j) => {
      row["s" + j] = l.values[i];
    });
    return row;
  });
  const tickStyle = { fontSize: 14.4, fontFamily: FONT, fill: "#222" };

  return (
    <>
      <Caption text={p.title} x={p.titleX} y={p.titleY} size={25.2} />
      {p.xCap.map(([text, x, y]) => (
        <Caption key={String(text)} text={String(text)} x={Number(x)} y={Number(y)} />
      ))}
      <Caption text="ACCURACY RATE (%)" x={p.yCapX} y={p.yCapY} rotate={-90} />
      <div style={{ position: "absolute", left: p.left - LEFT, top: p.top - TOP }}>
        <LineChart
          width={LEFT + PLOT_W + RIGHT}
          height={TOP + PLOT_H + BOTTOM}
          data={rows}
          margin={{ top: TOP, right: RIGHT, bottom: 0, left: 0 }}
          style={{ overflow: "visible" }}
        >
          <XAxis
            dataKey="x"
            type="number"
            domain={p.xDomain}
            ticks={p.xTicks}
            interval={0}
            height={BOTTOM}
            tickSize={4}
            tickMargin={4}
            tick={tickStyle}
            stroke="#222"
            tickFormatter={(_v: number, i: number) => p.xLabels[i]}
          />
          <YAxis
            type="number"
            domain={p.yDomain}
            ticks={p.yTicks}
            interval={0}
            width={LEFT}
            tickSize={4}
            tickMargin={1}
            tick={tickStyle}
            stroke="#222"
            tickFormatter={(_v: number, i: number) => p.yLabels[i]}
          />
          {lines.map((l, j) => (
            <Line
              key={j}
              dataKey={"s" + j}
              stroke={l.color}
              strokeWidth={1}
              dot={false}
              type="linear"
              isAnimationActive={false}
            />
          ))}
          <ReferenceArea
            x1={p.xDomain[0]}
            x2={p.xDomain[1]}
            y1={p.yDomain[0]}
            y2={p.yDomain[1]}
            fill="none"
            stroke="#444"
          />
        </LineChart>
      </div>
    </>
  );
}

export default function App() {
  return (
    <div style={{ position: "absolute", left: 0, top: 0, width: 1060, height: 1577, overflow: "hidden", background: "#fff" }}>
      {panels.map((p, i) => (
        <Panel key={i} p={p} />
      ))}
    </div>
  );
}
